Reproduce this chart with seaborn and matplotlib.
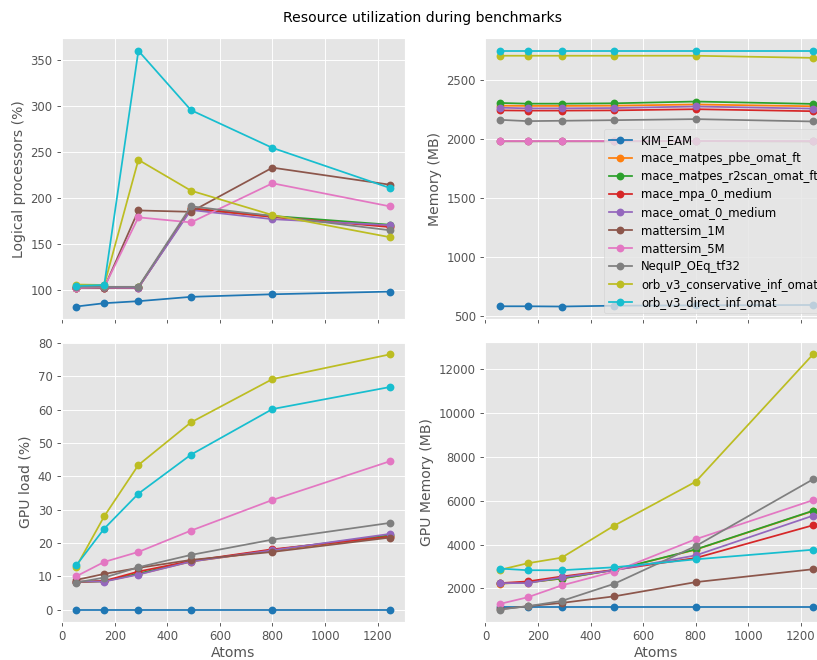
import matplotlib
matplotlib.use("Agg")
import matplotlib.pyplot as plt
import pandas as pd
import seaborn as sns

plt.style.use("ggplot")

atoms = [54, 160, 290, 490, 800, 1246]

models = [
    "KIM_EAM",
    "mace_matpes_pbe_omat_ft",
    "mace_matpes_r2scan_omat_ft",
    "mace_mpa_0_medium",
    "mace_omat_0_medium",
    "mattersim_1M",
    "mattersim_5M",
    "NequIP_OEq_tf32",
    "orb_v3_conservative_inf_omat",
    "orb_v3_direct_inf_omat",
]

# CPU usage (% of logical processors), one row per model
cpu_load = [
    [81.6, 85.2, 87.4, 92.1, 94.9, 97.8],
    [102.0, 102.0, 102.5, 187.5, 179.0, 169.0],
    [102.5, 102.5, 102.5, 188.0, 180.0, 170.5],
    [102.0, 102.0, 102.0, 188.5, 179.0, 168.0],
    [101.5, 102.0, 102.0, 186.5, 176.5, 170.0],
    [102.0, 102.0, 186.0, 184.5, 232.5, 214.0],
    [102.0, 102.5, 178.5, 173.0, 215.5, 190.5],
    [103.0, 103.0, 103.0, 190.5, 180.0, 164.5],
    [105.5, 105.0, 241.0, 207.5, 181.0, 157.0],
    [104.0, 105.0, 359.5, 295.0, 254.0, 210.5],
]

# Host memory (MB)
host_mem = [
    [585, 585, 583, 590, 593, 596],
    [2285, 2283, 2283, 2285, 2295, 2280],
    [2308, 2302, 2302, 2305, 2320, 2300],
    [2245, 2243, 2243, 2245, 2255, 2238],
    [2268, 2262, 2262, 2265, 2278, 2260],
    [1983, 1983, 1983, 1983, 1985, 1982],
    [1985, 1985, 1985, 1985, 1985, 1985],
    [2165, 2154, 2157, 2162, 2171, 2151],
    [2708, 2708, 2708, 2708, 2708, 2690],
    [2750, 2750, 2750, 2750, 2750, 2750],
]

# GPU load (%)
gpu_load = [
    [0.0, 0.0, 0.0, 0.0, 0.0, 0.0],
    [8.2, 8.5, 10.6, 14.4, 17.7, 22.0],
    [8.3, 8.5, 10.8, 14.5, 17.9, 22.3],
    [8.3, 8.6, 11.4, 14.6, 18.1, 21.9],
    [8.4, 8.4, 10.5, 14.4, 17.8, 22.7],
    [8.9, 10.7, 12.5, 14.9, 17.3, 21.6],
    [10.0, 14.3, 17.3, 23.7, 32.9, 44.5],
    [8.1, 9.6, 12.7, 16.4, 21.0, 26.0],
    [12.9, 28.0, 43.4, 56.2, 69.2, 76.6],
    [13.3, 24.3, 34.8, 46.5, 60.2, 66.8],
]

# GPU memory (MB)
gpu_mem = [
    [1170, 1170, 1170, 1170, 1170, 1170],
    [2220, 2265, 2450, 2840, 3770, 5530],
    [2226, 2271, 2452, 2845, 3780, 5544],
    [2241, 2317, 2543, 2845, 3388, 4881],
    [2241, 2241, 2498, 2830, 3508, 5318],
    [1050, 1186, 1336, 1638, 2287, 2875],
    [1291, 1593, 2136, 2769, 4247, 6027],
    [1035, 1186, 1427, 2211, 3931, 6977],
    [2845, 3146, 3403, 4866, 6872, 12679],
    [2905, 2830, 2830, 2965, 3327, 3765],
]


def long_frame(values, column):
    rows = []
    for model, series in zip(models, values):
        for n, v in zip(atoms, series):
            rows.append((model, n, v))
    return pd.DataFrame(rows, columns=["model", "Atoms", column])


W, H = 817, 660
DPI = 84
fig = plt.figure(figsize=(W / DPI, H / DPI), dpi=DPI)


def rect(left, top, right, bottom):
    return [left / W, 1 - bottom / H, (right - left) / W, (bottom - top) / H]


ax_cpu = fig.add_axes(rect(60.7, 38, 405.3, 319.3))
ax_mem = fig.add_axes(rect(484, 38, 828.6, 319.3), sharex=ax_cpu)
ax_gpu = fig.add_axes(rect(60.7, 341.7, 405.3, 622.3), sharex=ax_cpu)
ax_gmem = fig.add_axes(rect(484, 341.7, 828.6, 622.3), sharex=ax_cpu)

palette = sns.color_palette("tab10", len(models))

panels = [
    (ax_cpu, cpu_load, "Logical processors (%)"),
    (ax_mem, host_mem, "Memory (MB)"),
    (ax_gpu, gpu_load, "GPU load (%)"),
    (ax_gmem, gpu_mem, "GPU Memory (MB)"),
]

for ax, values, label in panels:
    df = long_frame(values, label)
    sns.lineplot(
        data=df, x="Atoms", y=label, hue="model", hue_order=models,
        palette=palette, marker="o", markersize=6.7, markeredgewidth=0,
        linewidth=1.5, ax=ax, legend=(ax is ax_mem),
    )
    ax.set_ylabel(label)

for ax in (ax_cpu, ax_mem):
    ax.set_xlabel("")
    plt.setp(ax.get_xticklabels(), visible=False)

for ax in (ax_gpu, ax_gmem):
    ax.set_xlabel("Atoms", labelpad=2.5)

ax_cpu.set_xticks([0, 200, 400, 600, 800, 1000, 1200])

sns.move_legend(ax_mem, "lower right", title=None, labelspacing=0.43)

fig.suptitle("Resource utilization during benchmarks", x=422 / W,
             y=1 - 18.3 / H, va="center")

fig.savefig("out.png", dpi=DPI)
